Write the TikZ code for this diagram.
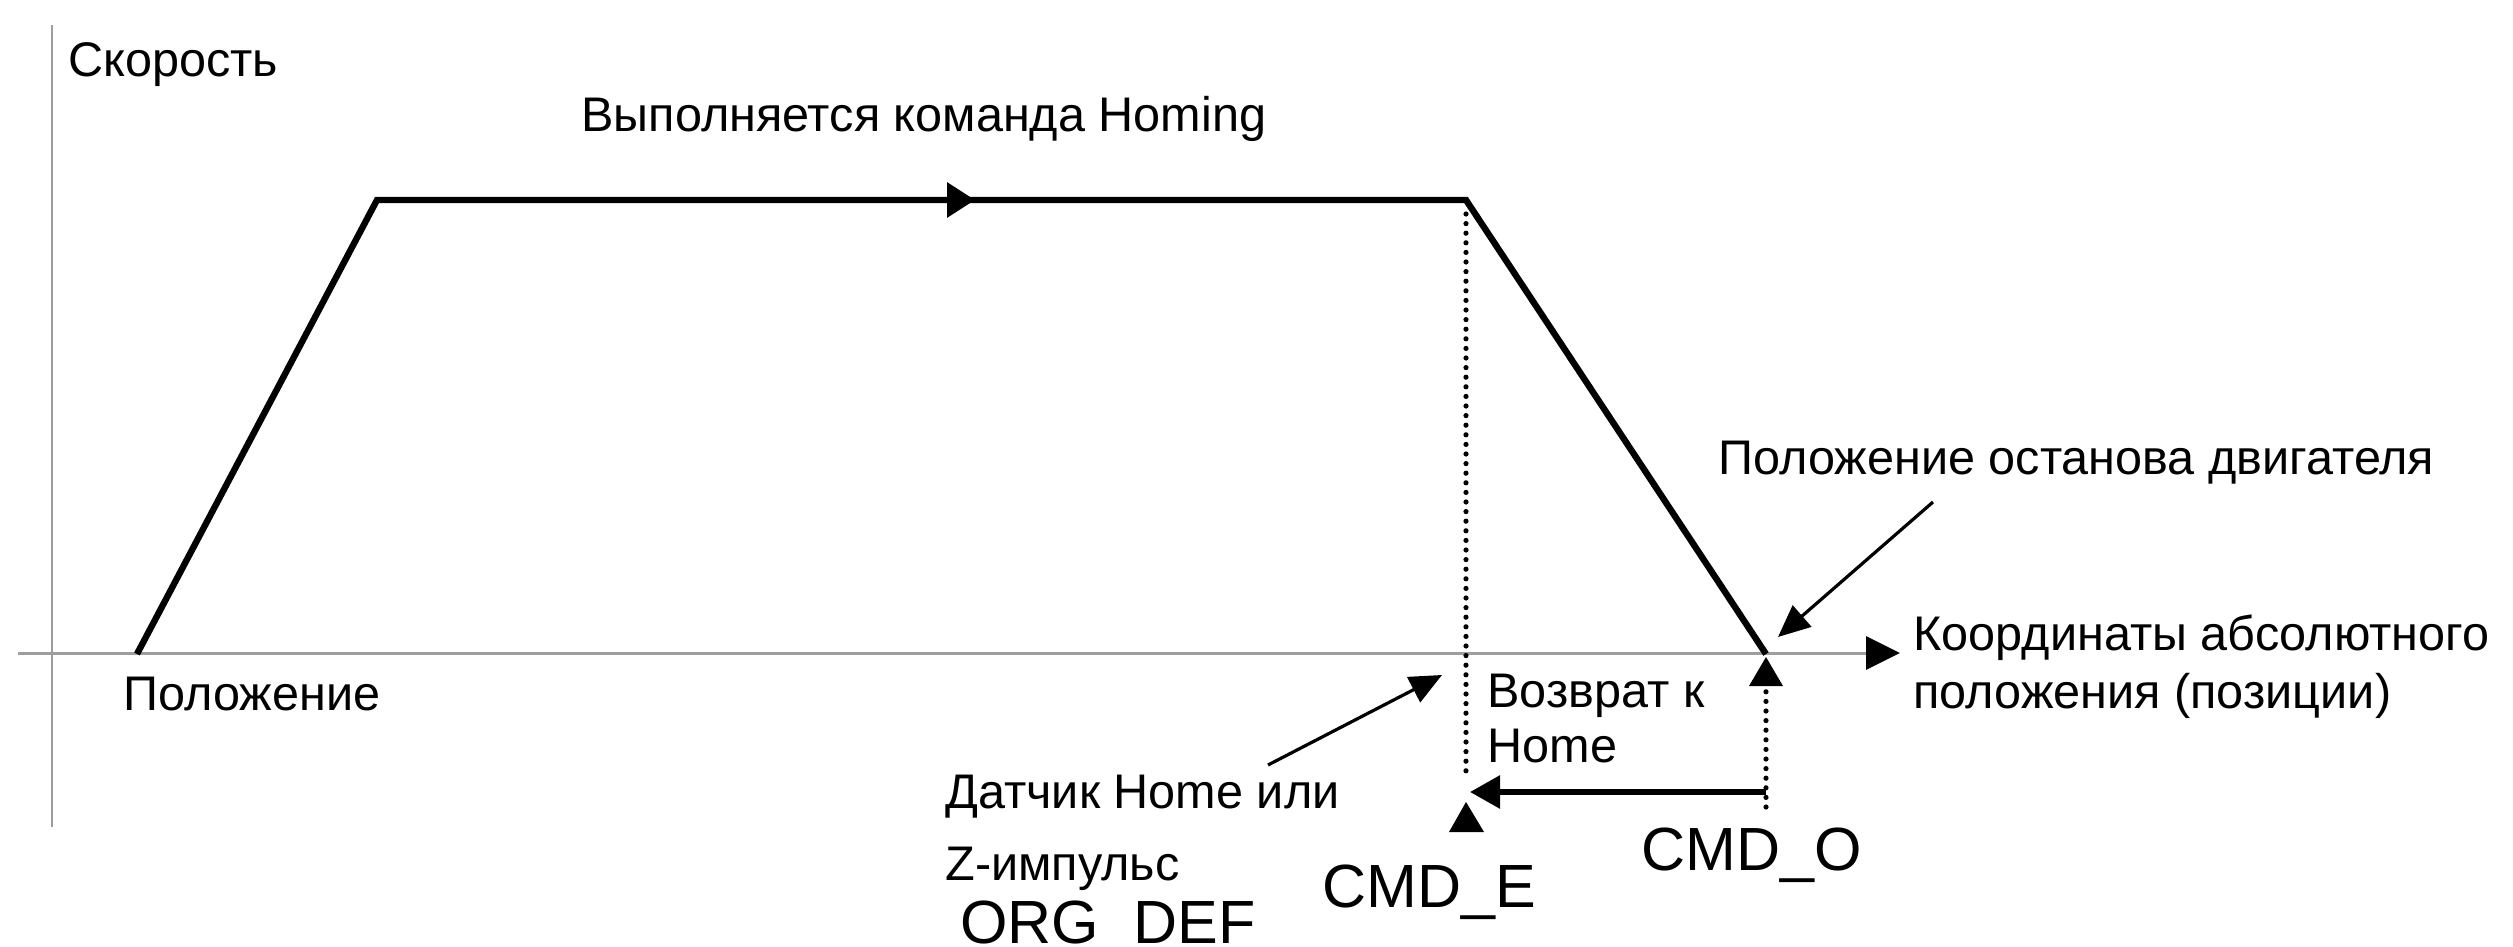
\documentclass[tikz,border=0pt]{standalone}
\usepackage{fontspec}
\setmainfont{Liberation Sans}
\usetikzlibrary{arrows.meta}
\begin{document}
\begin{tikzpicture}[x=0.5pt,y=-0.5pt,
  lbl/.style={anchor=base west, inner sep=0pt, font=\fontsize{24.3}{29}\selectfont},
  big/.style={anchor=base west, inner sep=0pt, font=\fontsize{30.5}{36}\selectfont},
  axisline/.style={draw=black!38, line width=1.5pt},
  profile/.style={line width=3.2pt, line join=miter},
  dotline/.style={line width=2.6pt, line cap=round, dash pattern=on 0pt off 4.8pt},
  pointer/.style={line width=1.6pt, -{Triangle[length=16pt,width=14pt]}},
  ]
\useasboundingbox (0,0) rectangle (2513,947);
% coordinates
\coordinate (v1) at (52,25);
\coordinate (v2) at (52,827);
\coordinate (o1) at (18,653);
\coordinate (o2) at (1900,653);
\coordinate (s) at (137,654);
\coordinate (tl) at (377,200);
\coordinate (tr) at (1466,200);
\coordinate (e) at (1766,654);
\coordinate (fa) at (975,200);
\coordinate (d1) at (1466,214);
\coordinate (d2) at (1466,773);
\coordinate (c1) at (1766,807);
\coordinate (c2) at (1766,688);
\coordinate (r1) at (1766,792);
\coordinate (r2) at (1470,792);
\coordinate (stopA) at (1933,502);
\coordinate (stopB) at (1778,637);
\coordinate (sensA) at (1268,765);
\coordinate (sensB) at (1442,675);
% axes
\draw[axisline, line width=1.2pt] (v1) -- (v2);
\draw[axisline, -{Triangle[black,length=17pt,width=16.5pt]}] (o1) -- (o2);
% velocity profile
\draw[profile] (s) -- (tl) -- (tr) -- (e);
\draw[profile, -{Triangle[length=14pt,width=17pt]}] (tl) -- (fa);
% dotted markers
\draw[dotline] (d1) -- (d2);
\draw[dotline] (c1) -- (c2);
\fill (1766,657) -- (1749,686) -- (1783,686) -- cycle;
\fill (1466,802) -- (1449,832) -- (1484,832) -- cycle;
% return arrow
\draw[line width=3pt, -{Triangle[length=15pt,width=16pt]}] (r1) -- (r2);
% pointers
\draw[pointer] (stopA) -- (stopB);
\draw[pointer] (sensA) -- (sensB);
% labels
\node[lbl] (speed) at (68,77) {Скорость};
\node[lbl] (homing) at (581,132) {Выполняется команда Homing};
\node[lbl] (pos) at (123,710) {Положение};
\node[lbl] (stop) at (1718,474) {Положение останова двигателя};
\node[lbl] (abs1) at (1913,650) {Координаты абсолютного};
\node[lbl] (abs2) at (1913,708) {положения (позиции)};
\node[lbl] (ret1) at (1487,707) {Возврат к};
\node[lbl] (ret2) at (1487,762) {Home};
\node[lbl] (sens1) at (945,808) {Датчик Home или};
\node[lbl] (sens2) at (945,880) {Z-импульс};
\node[big] (org) at (960,943) {ORG\_DEF};
\node[big] (cmde) at (1322,907) {CMD\_E};
\node[big] (cmdo) at (1641,870) {CMD\_O};
\end{tikzpicture}
\end{document}
